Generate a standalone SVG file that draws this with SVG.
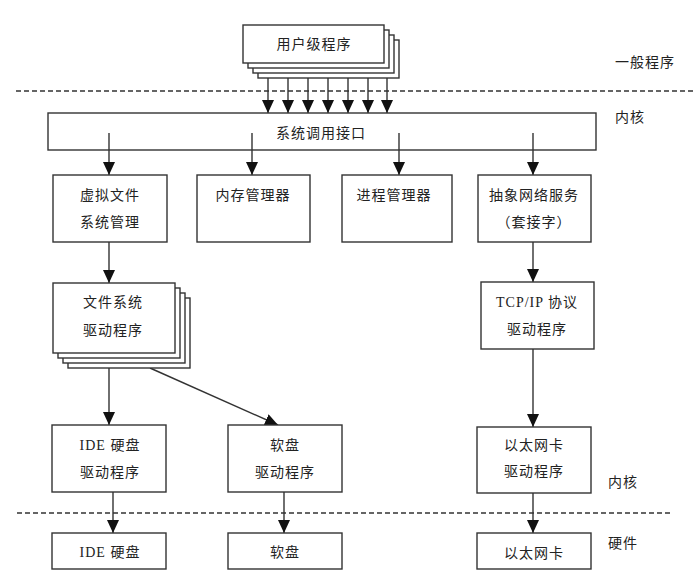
<svg xmlns="http://www.w3.org/2000/svg" width="696" height="583" viewBox="0 0 696 583">
<style>
.box{fill:#fff;stroke:#333;stroke-width:1.4}
.t{font-family:"Noto Sans CJK SC","Noto Sans",sans-serif;font-size:14px;fill:#222;letter-spacing:1px}
.s{font-family:"Liberation Serif","Noto Sans CJK SC",serif;font-size:14px;fill:#222;letter-spacing:1px}
.c{text-anchor:middle}
.ln{stroke:#333;stroke-width:1.4;fill:none}
.dash{stroke:#333;stroke-width:1.4;stroke-dasharray:5 3;fill:none}
</style>
<defs>
<marker id="ah" viewBox="0 0 13 12" markerWidth="13" markerHeight="12" refX="13" refY="6" orient="auto" markerUnits="userSpaceOnUse">
<path d="M0,0 L13,6 L0,12 z" fill="#111"/>
</marker>
</defs>
<rect width="696" height="583" fill="#fff"/>

<g id="layers">
<line class="dash" x1="16" y1="91" x2="696" y2="91"/>
<line class="dash" x1="17" y1="513" x2="672" y2="513"/>
<text class="t" x="615" y="67">一般程序</text>
<text class="t" x="615" y="122">内核</text>
<text class="t" x="608" y="487">内核</text>
<text class="t" x="608" y="548">硬件</text>
</g>

<g id="connectors">
<line class="ln" x1="268" y1="78" x2="268" y2="113" marker-end="url(#ah)"/>
<line class="ln" x1="288" y1="78" x2="288" y2="113" marker-end="url(#ah)"/>
<line class="ln" x1="308" y1="78" x2="308" y2="113" marker-end="url(#ah)"/>
<line class="ln" x1="328" y1="78" x2="328" y2="113" marker-end="url(#ah)"/>
<line class="ln" x1="348" y1="78" x2="348" y2="113" marker-end="url(#ah)"/>
<line class="ln" x1="368" y1="78" x2="368" y2="113" marker-end="url(#ah)"/>
<line class="ln" x1="387" y1="78" x2="387" y2="113" marker-end="url(#ah)"/>
<line class="ln" x1="109" y1="133" x2="109" y2="175" marker-end="url(#ah)"/>
<line class="ln" x1="252" y1="133" x2="252" y2="175" marker-end="url(#ah)"/>
<line class="ln" x1="399" y1="133" x2="399" y2="175" marker-end="url(#ah)"/>
<line class="ln" x1="533" y1="133" x2="533" y2="175" marker-end="url(#ah)"/>
<line class="ln" x1="109" y1="242" x2="109" y2="283" marker-end="url(#ah)"/>
<line class="ln" x1="109" y1="368" x2="109" y2="425" marker-end="url(#ah)"/>
<line class="ln" x1="150" y1="368" x2="278" y2="425" marker-end="url(#ah)"/>
<line class="ln" x1="533" y1="242" x2="533" y2="282" marker-end="url(#ah)"/>
<line class="ln" x1="533" y1="349" x2="533" y2="427" marker-end="url(#ah)"/>
<line class="ln" x1="113" y1="492" x2="113" y2="533" marker-end="url(#ah)"/>
<line class="ln" x1="284" y1="492" x2="284" y2="533" marker-end="url(#ah)"/>
<line class="ln" x1="533" y1="493" x2="533" y2="533" marker-end="url(#ah)"/>
</g>

<g id="user-programs">
<rect class="box" x="258" y="40" width="141" height="38"/>
<rect class="box" x="253" y="35" width="141" height="38"/>
<rect class="box" x="248" y="30" width="141" height="38"/>
<rect class="box" x="243" y="25" width="141" height="38"/>
<text class="t c" x="314" y="49">用户级程序</text>
</g>

<g id="syscall">
<rect class="box" x="48" y="113" width="548" height="37" style="fill:none"/>
<text class="t c" x="321" y="138">系统调用接口</text>
</g>

<g id="vfs">
<rect class="box" x="53" y="175" width="114" height="67"/>
<text class="t c" x="110" y="200">虚拟文件</text>
<text class="t c" x="110" y="227">系统管理</text>
</g>

<g id="mem">
<rect class="box" x="197" y="175" width="113" height="67"/>
<text class="t c" x="253" y="200">内存管理器</text>
</g>

<g id="proc">
<rect class="box" x="342" y="175" width="110" height="67"/>
<text class="t c" x="394" y="200">进程管理器</text>
</g>

<g id="net">
<rect class="box" x="478" y="175" width="113" height="67"/>
<text class="t c" x="534" y="200">抽象网络服务</text>
<text class="t c" x="534" y="227">（套接字）</text>
</g>

<g id="fsdrivers">
<rect class="box" x="68" y="298" width="122" height="70"/>
<rect class="box" x="63" y="293" width="122" height="70"/>
<rect class="box" x="58" y="288" width="122" height="70"/>
<rect class="box" x="53" y="283" width="122" height="70"/>
<text class="t c" x="113" y="307">文件系统</text>
<text class="t c" x="113" y="335">驱动程序</text>
</g>

<g id="tcpip">
<rect class="box" x="481" y="282" width="113" height="67"/>
<text class="s c" x="537" y="307">TCP/IP 协议</text>
<text class="t c" x="537" y="334">驱动程序</text>
</g>

<g id="ide-driver">
<rect class="box" x="52" y="425" width="114" height="67"/>
<text class="s c" x="110" y="450">IDE 硬盘</text>
<text class="t c" x="110" y="477">驱动程序</text>
</g>

<g id="floppy-driver">
<rect class="box" x="228" y="425" width="114" height="67"/>
<text class="t c" x="285" y="450">软盘</text>
<text class="t c" x="285" y="477">驱动程序</text>
</g>

<g id="eth-driver">
<rect class="box" x="477" y="427" width="114" height="66"/>
<text class="t c" x="534" y="450">以太网卡</text>
<text class="t c" x="534" y="476">驱动程序</text>
</g>

<g id="ide">
<rect class="box" x="52" y="533" width="114" height="36"/>
<text class="s c" x="110" y="557">IDE 硬盘</text>
</g>

<g id="floppy">
<rect class="box" x="228" y="533" width="114" height="36"/>
<text class="t c" x="285" y="557">软盘</text>
</g>

<g id="eth">
<rect class="box" x="477" y="533" width="114" height="36"/>
<text class="t c" x="534" y="558">以太网卡</text>
</g>
</svg>
